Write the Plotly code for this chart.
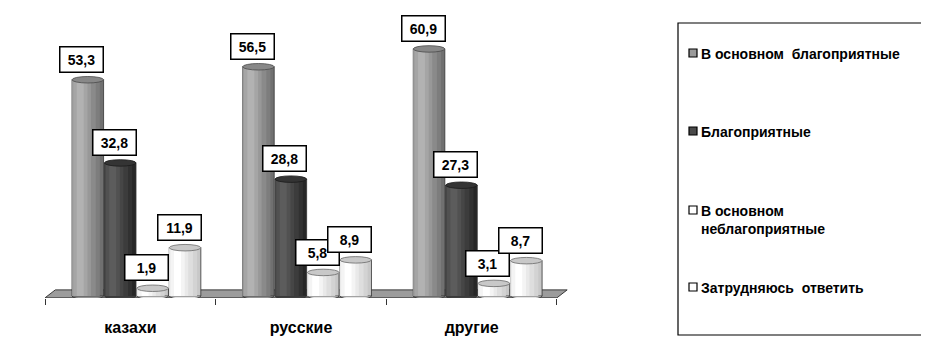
import plotly.graph_objects as go

categories = ["казахи", "русские", "другие"]
series_names = ["В основном  благоприятные", "Благоприятные",
                "В основном<br>неблагоприятные", "Затрудняюсь  ответить"]
values = {
    "В основном  благоприятные": [53.3, 56.5, 60.9],
    "Благоприятные": [32.8, 28.8, 27.3],
    "В основном<br>неблагоприятные": [1.9, 5.8, 3.1],
    "Затрудняюсь  ответить": [11.9, 8.9, 8.7],
}

# styles: light (left/highlight) and dark (right edge) colours, cap, legend swatch
styles = [
    dict(light=(178, 178, 178), dark=(112, 112, 112), cap="#888888", capline="#4a4a4a", leg="#9a9a9a"),
    dict(light=(92, 92, 92), dark=(38, 38, 38), cap="#343434", capline="#1a1a1a", leg="#4a4a4a"),
    dict(light=(255, 255, 255), dark=(200, 200, 200), cap="#c8c8c8", capline="#6a6a6a", leg="#ffffff"),
    dict(light=(255, 255, 255), dark=(200, 200, 200), cap="#c8c8c8", capline="#6a6a6a", leg="#ffffff"),
]

FONT = "Arial, Liberation Sans, sans-serif"
SHIFT = 8  # page body margin
W_FIG, H_FIG = 929 - SHIFT, 339 - SHIFT
ML, MR, MT, MB = 20, 355, 4, 41
PW = W_FIG - ML - MR
PH = H_FIG - MT - MB

bar_w = 0.185
step = 0.19
start = -0.342


def mix(a, b, t):
    r, g, bl = (round(a[k] + (b[k] - a[k]) * t) for k in range(3))
    return f"rgb({r},{g},{bl})"


# gradient layers: (left fraction, width fraction, t toward dark)
layers = [
    (0.0, 1.0, 1.0),
    (0.0, 0.88, 0.8),
    (0.0, 0.75, 0.6),
    (0.0, 0.6, 0.4),
    (0.04, 0.45, 0.2),
    (0.15, 0.22, 0.0),
]

fig = go.Figure()
shapes = []
annotations = []

# floor
shapes.append(dict(type="path", xref="x", yref="y", layer="below",
                   path="M -0.5,-0.45 L 2.5,-0.45 L 2.56,1.5 L -0.44,1.5 Z",
                   fillcolor="#9c9c9c", line=dict(color="#3a3a3a", width=1)))

for i, name in enumerate(series_names):
    st = styles[i]
    off = start + i * step
    vals = values[name]
    for k, (lf, wf, t) in enumerate(layers):
        fig.add_trace(go.Bar(x=categories, y=vals, offset=off + lf * bar_w, width=wf * bar_w,
                             name=name,
                             marker=dict(color=mix(st["light"], st["dark"], t),
                                         line=dict(color="#333333", width=0.8 if k == 0 else 0)),
                             showlegend=False, hoverinfo="skip"))
    for j, v in enumerate(vals):
        x0 = j + off
        x1 = j + off + bar_w
        # bottom rounding
        shapes.append(dict(type="circle", xref="x", yref="y", layer="below",
                           x0=x0, x1=x1, y0=-0.8, y1=0.8,
                           fillcolor=mix(st["light"], st["dark"], 0.5),
                           line=dict(color="#333333", width=0.8)))
        # top cap
        shapes.append(dict(type="circle", xref="x", yref="y", layer="above",
                           x0=x0, x1=x1, y0=v - 0.8, y1=v + 0.8,
                           fillcolor=st["cap"], line=dict(color=st["capline"], width=0.8)))
        annotations.append(dict(x=j + off + bar_w / 2 - 0.035, y=v + 5.0, xref="x", yref="y",
                                text=f"{v:.1f}".replace(".", ","), showarrow=False,
                                font=dict(family=FONT, size=14, color="#000000", weight="bold"),
                                bgcolor="#ffffff", bordercolor="#000000", borderwidth=1.5,
                                borderpad=2, width=38, height=20,
                                xanchor="center", yanchor="middle"))


def px_x(p):
    return (p - SHIFT - ML) / PW


def px_y(p):
    return 1 - (p - SHIFT - MT) / PH


# legend box
shapes.append(dict(type="rect", xref="paper", yref="paper",
                   x0=px_x(678), x1=px_x(924), y0=px_y(335), y1=px_y(23),
                   fillcolor="rgba(0,0,0,0)", line=dict(color="#000000", width=1.2)))
leg_y = [53, 131, 210, 287]
for i, name in enumerate(series_names):
    st = styles[i]
    y = leg_y[i]
    shapes.append(dict(type="rect", xref="paper", yref="paper",
                       x0=px_x(689), x1=px_x(697), y0=px_y(y + 4), y1=px_y(y - 4),
                       fillcolor=st["leg"], line=dict(color="#000000", width=1.2)))
    annotations.append(dict(x=px_x(699), y=px_y(y - 9), xref="paper", yref="paper",
                            text=name, showarrow=False, align="left",
                            xanchor="left", yanchor="top",
                            font=dict(family=FONT, size=14, color="#000000", weight="bold")))

fig.update_layout(
    width=W_FIG, height=H_FIG,
    margin=dict(l=ML, r=MR, t=MT, b=MB),
    paper_bgcolor="#ffffff", plot_bgcolor="#ffffff",
    barmode="overlay",
    showlegend=False,
    shapes=shapes, annotations=annotations,
    xaxis=dict(type="category", range=[-0.6, 2.6], tickson="boundaries",
               ticks="outside", ticklen=6, tickcolor="#333333", tickwidth=1,
               showline=False, showgrid=False, zeroline=False,
               tickfont=dict(family=FONT, size=16, color="#000000", weight="bold"),
               ticklabelstandoff=18),
    yaxis=dict(range=[-0.5, 70], visible=False, showgrid=False, zeroline=False),
)

fig.write_html("out.html")
